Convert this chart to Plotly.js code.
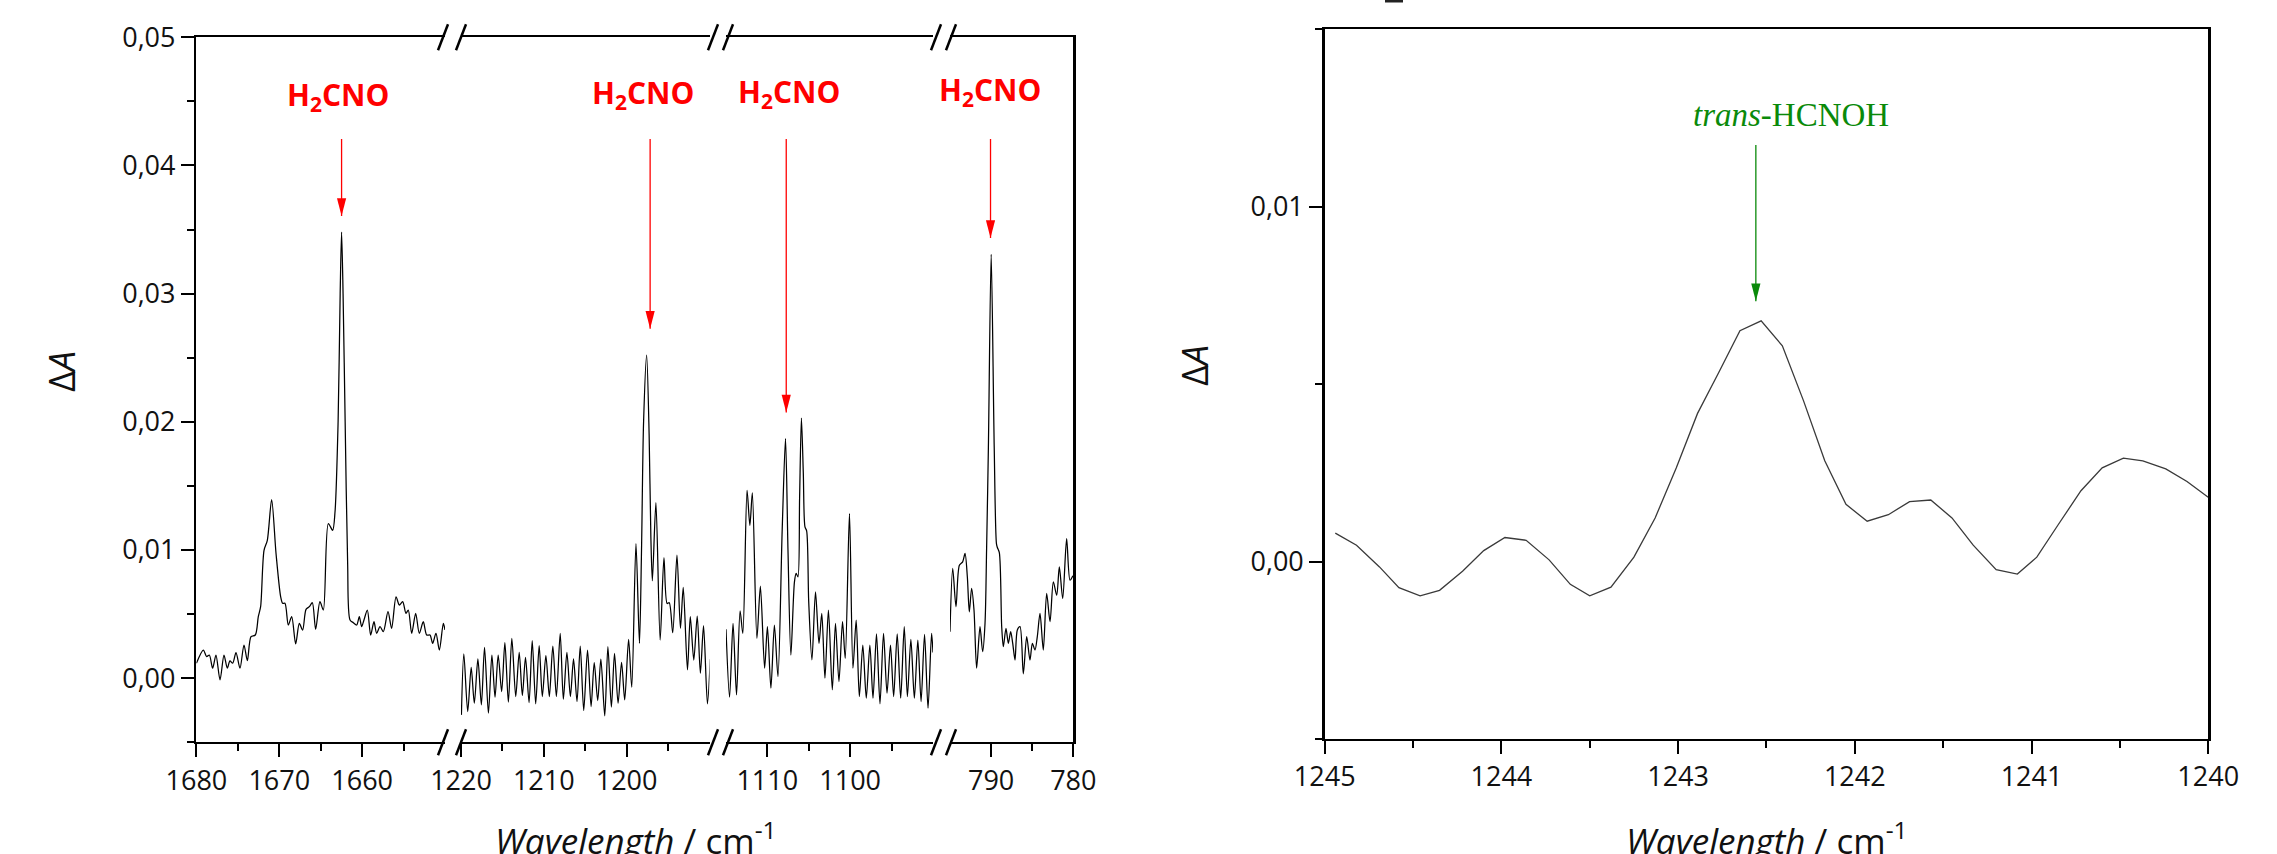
<!DOCTYPE html>
<html>
<head>
<meta charset="utf-8">
<script src="https://cdn.plot.ly/plotly-3.0.1.min.js"></script>
<style>html,body{margin:0;padding:0;background:#fff;}#chart{width:2277px;height:854px;}</style>
</head>
<body>
<div id="chart"></div>
<script>
// ---------------- DATA ----------------
// Left panel, segment 1 (1680-1650 cm-1)
const seg1X = [1680.0, 1679.16, 1678.76, 1678.44, 1678.04, 1677.64, 1677.15, 1676.67, 1676.27, 1675.95, 1675.62, 1675.22, 1674.74, 1674.26, 1673.85, 1673.41, 1672.89, 1672.53, 1672.25, 1671.84, 1671.44, 1670.92, 1670.39, 1669.83, 1669.59, 1669.31, 1668.91, 1668.50, 1668.02, 1667.58, 1667.18, 1666.77, 1666.37, 1666.01, 1665.61, 1665.09, 1664.68, 1664.08, 1663.56, 1663.27, 1662.90, 1662.65, 1662.48, 1662.30, 1662.05, 1661.75, 1661.46, 1661.06, 1660.66, 1660.34, 1660.06, 1659.78, 1659.37, 1658.97, 1658.57, 1658.25, 1657.84, 1657.44, 1656.88, 1656.44, 1655.91, 1655.51, 1655.11, 1654.71, 1654.43, 1654.02, 1653.54, 1653.10, 1652.62, 1652.21, 1651.81, 1651.49, 1651.09, 1650.68, 1650.20, 1650.0];
const seg1Y = [0.00117, 0.00220, 0.00168, 0.00181, 0.00078, 0.00181, -0.00013, 0.00181, 0.00078, 0.00135, 0.00117, 0.00200, 0.00078, 0.00259, 0.00137, 0.00324, 0.00337, 0.00480, 0.00558, 0.00998, 0.01076, 0.01393, 0.00973, 0.00635, 0.00584, 0.00584, 0.00415, 0.00480, 0.00267, 0.00428, 0.00376, 0.00537, 0.00558, 0.00589, 0.00381, 0.00597, 0.00532, 0.01206, 0.01154, 0.0130, 0.0200, 0.0300, 0.0348, 0.0300, 0.0200, 0.0090, 0.00454, 0.00433, 0.00415, 0.00480, 0.00402, 0.00454, 0.00532, 0.00337, 0.00441, 0.00350, 0.00402, 0.00363, 0.00519, 0.00389, 0.00635, 0.00571, 0.00597, 0.00506, 0.00532, 0.00350, 0.00506, 0.00350, 0.00441, 0.00337, 0.00337, 0.00272, 0.00350, 0.00220, 0.00428, 0.00376];

// Left panel, segment 2 (1220-1190 cm-1)
const seg2X = [1219.95, 1219.66, 1219.19, 1218.77, 1218.39, 1217.96, 1217.54, 1217.16, 1216.69, 1216.27, 1215.89, 1215.51, 1215.09, 1214.70, 1214.28, 1213.86, 1213.39, 1212.97, 1212.59, 1212.21, 1211.78, 1211.40, 1210.98, 1210.56, 1210.18, 1209.75, 1209.33, 1208.91, 1208.48, 1208.02, 1207.64, 1207.21, 1206.79, 1206.41, 1205.99, 1205.60, 1205.18, 1204.72, 1204.29, 1203.91, 1203.49, 1203.11, 1202.64, 1202.26, 1201.84, 1201.46, 1201.03, 1200.61, 1200.23, 1199.76, 1199.38, 1198.87, 1198.45, 1198.20, 1197.95, 1197.58, 1197.28, 1197.07, 1196.89, 1196.46, 1195.95, 1195.49, 1195.11, 1194.85, 1194.43, 1193.92, 1193.50, 1193.16, 1192.65, 1192.31, 1191.89, 1191.47, 1191.09, 1190.71, 1190.24, 1189.90];
const seg2Y = [-0.00286, 0.00189, -0.00260, 0.00085, -0.00195, 0.00150, -0.00208, 0.00241, -0.00273, 0.00181, -0.00148, 0.00181, -0.00104, 0.00277, -0.00187, 0.00311, -0.00143, 0.00202, -0.00135, 0.00163, -0.00190, 0.00293, -0.00200, 0.00254, -0.00143, 0.00176, -0.00143, 0.00251, -0.00143, 0.00350, -0.00164, 0.00202, -0.00143, 0.00150, -0.00182, 0.00251, -0.00252, 0.00220, -0.00221, 0.00122, -0.00174, 0.00148, -0.00293, 0.00246, -0.00226, 0.00194, -0.00195, 0.00124, -0.00169, 0.00303, -0.00070, 0.01050, 0.00272, 0.0100, 0.0200, 0.0252, 0.0190, 0.0110, 0.00760, 0.01369, 0.00298, 0.00941, 0.00583, 0.00589, 0.00355, 0.00960, 0.00389, 0.00708, 0.00065, 0.00480, 0.00142, 0.00485, 0.00039, 0.00410, -0.00200, 0.00148];

// Left panel, segment 3 (1115-1090 cm-1)
const seg3X = [1114.98, 1114.55, 1114.13, 1113.71, 1113.28, 1112.95, 1112.44, 1112.10, 1111.80, 1111.25, 1110.83, 1110.32, 1109.98, 1109.56, 1109.14, 1108.71, 1108.20, 1107.80, 1107.50, 1107.15, 1106.72, 1106.51, 1106.30, 1106.10, 1105.88, 1105.65, 1105.45, 1105.25, 1105.00, 1104.61, 1104.18, 1103.76, 1103.42, 1103.04, 1102.62, 1102.15, 1101.77, 1101.35, 1100.92, 1100.59, 1100.08, 1099.66, 1099.27, 1098.89, 1098.47, 1098.05, 1097.62, 1097.24, 1096.82, 1096.40, 1095.97, 1095.55, 1095.13, 1094.75, 1094.32, 1093.90, 1093.47, 1093.09, 1092.67, 1092.25, 1091.83, 1091.44, 1091.02, 1090.60, 1090.17, 1090.0];
const seg3Y = [0.00381, -0.00148, 0.00428, -0.00130, 0.00526, 0.00350, 0.01465, 0.01193, 0.01445, 0.00311, 0.00718, 0.00078, 0.00402, -0.00078, 0.00415, 0.00013, 0.01154, 0.01870, 0.01000, 0.00181, 0.00752, 0.00817, 0.00791, 0.01400, 0.02030, 0.01600, 0.01180, 0.01150, 0.00600, 0.00143, 0.00674, 0.00272, 0.00506, 0.00000, 0.00532, -0.00091, 0.00428, -0.00026, 0.00441, 0.00155, 0.01284, 0.00078, 0.00454, -0.00143, 0.00259, -0.00156, 0.00259, -0.00156, 0.00345, -0.00200, 0.00350, -0.00117, 0.00259, -0.00143, 0.00345, -0.00156, 0.00402, -0.00143, 0.00303, -0.00156, 0.00298, -0.00182, 0.00342, -0.00234, 0.00350, 0.00200];

// Left panel, segment 4 (795-780 cm-1)
const seg4X = [795.0, 794.67, 794.27, 793.86, 793.46, 793.17, 792.89, 792.65, 792.37, 792.08, 791.76, 791.35, 791.03, 790.74, 790.55, 790.33, 789.99, 789.62, 789.35, 789.24, 789.00, 788.71, 788.51, 788.19, 787.90, 787.62, 787.37, 787.09, 786.81, 786.48, 786.08, 785.67, 785.27, 784.98, 784.66, 784.38, 784.05, 783.65, 783.24, 782.83, 782.43, 782.02, 781.70, 781.29, 780.81, 780.40, 780.05];
const seg4Y = [0.00363, 0.00856, 0.00557, 0.00882, 0.00908, 0.00973, 0.00791, 0.00518, 0.00700, 0.00532, 0.00078, 0.00402, 0.00207, 0.00428, 0.01000, 0.01800, 0.03307, 0.01800, 0.01050, 0.01020, 0.00980, 0.00402, 0.00246, 0.00389, 0.00272, 0.00363, 0.00272, 0.00142, 0.00376, 0.00402, 0.00034, 0.00324, 0.00142, 0.00272, 0.00220, 0.00324, 0.00506, 0.00220, 0.00661, 0.00441, 0.00752, 0.00648, 0.00869, 0.00622, 0.01089, 0.00765, 0.00800];

// Right panel (1245-1240 cm-1)
const rightX = [1244.94, 1244.82, 1244.69, 1244.58, 1244.46, 1244.35, 1244.22, 1244.10, 1243.98, 1243.86, 1243.73, 1243.61, 1243.50, 1243.38, 1243.25, 1243.13, 1243.01, 1242.89, 1242.77, 1242.65, 1242.53, 1242.41, 1242.29, 1242.17, 1242.05, 1241.93, 1241.81, 1241.69, 1241.57, 1241.45, 1241.33, 1241.20, 1241.08, 1240.97, 1240.85, 1240.72, 1240.60, 1240.48, 1240.37, 1240.24, 1240.12, 1240.00];
const rightY = [0.000798, 0.000460, -0.000153, -0.000736, -0.000966, -0.000813, -0.000276, 0.000307, 0.000675, 0.000598, 0.000046, -0.000644, -0.000966, -0.000721, 0.000123, 0.001227, 0.002638, 0.004172, 0.005322, 0.006503, 0.006779, 0.006074, 0.004525, 0.002837, 0.001610, 0.001135, 0.001319, 0.001687, 0.001733, 0.001227, 0.000460, -0.000230, -0.000353, 0.000123, 0.001028, 0.001994, 0.002638, 0.002914, 0.002837, 0.002607, 0.002255, 0.001810];

// Tick values / labels
const seg1Ticks = [1680, 1670, 1660], seg1Minor = [1675, 1665, 1655];
const seg2Ticks = [1220, 1210, 1200], seg2Minor = [1215, 1205, 1195];
const seg3Ticks = [1110, 1100], seg3Minor = [1105, 1095];
const seg4Ticks = [790, 780], seg4Minor = [785];
const leftYTicks = [0, 0.01, 0.02, 0.03, 0.04, 0.05];
const leftYMinor = [-0.005, 0.005, 0.015, 0.025, 0.035, 0.045];
const rightXTicks = [1245, 1244, 1243, 1242, 1241, 1240];
const rightXMinor = [1244.5, 1243.5, 1242.5, 1241.5, 1240.5];
const rightYTicks = [0, 0.01];
const rightYMinor = [-0.005, 0.005, 0.015];

// Annotation anchors (peak labels and arrows)
const redLabelX = [1662.97, 1197.97, 1107.41, 790.16];
const redLabelY = [0.04544, 0.04558, 0.04565, 0.04582];
const redArrowX = [1662.48, 1197.16, 1107.71, 790.07];
const redArrowTail = [0.04207, 0.04207, 0.04207, 0.04207];
const redArrowTip = [0.03606, 0.02727, 0.02073, 0.03434];
const greenLabelX = 1242.36, greenLabelY = 0.01258;
const greenArrowX = 1242.56, greenArrowTail = 0.011734, greenArrowTip = 0.007332;

// ---------------- LAYOUT ----------------
const W = 2277, H = 854;
const fx = p => p / W;
const fy = p => 1 - p / H;
const FONT = 'Open Sans, DejaVu Sans, sans-serif';
const tickFont = {family: FONT, size: 27, color: '#111'};

const segDom = [[196.4, 445], [461, 709.5], [726, 933], [950, 1073.3]];
const segRange = [[1680, 1650], [1220, 1189.99], [1114.98, 1090.0], [795.0, 780.0]];
const leftTop = 37.3, leftBot = 742.3, rightTop = 29, rightBot = 739;
const rightL = 1324.7, rightR = 2208.2;

function segAxis(i, ticks, minor, anchor) {
  return {
    domain: [fx(segDom[i][0]), fx(segDom[i][1])],
    range: segRange[i], anchor: anchor,
    showline: true, linecolor: '#000', linewidth: 2, mirror: true,
    ticks: 'outside', ticklen: 13, tickwidth: 2, tickcolor: '#000',
    tickmode: 'array', tickvals: ticks, ticktext: ticks.map(String),
    tickfont: tickFont, showgrid: false, zeroline: false,
    minor: {tickmode: 'array', tickvals: minor, ticks: 'outside', ticklen: 7, tickwidth: 2, tickcolor: '#000', showgrid: false},
    fixedrange: true
  };
}

const lineStyle = {color: '#000', width: 1.25, shape: 'spline', smoothing: 0.8};
const traces = [
  {x: seg1X, y: seg1Y, xaxis: 'x', yaxis: 'y', mode: 'lines', line: lineStyle, hoverinfo: 'skip'},
  {x: seg2X, y: seg2Y, xaxis: 'x2', yaxis: 'y', mode: 'lines', line: lineStyle, hoverinfo: 'skip'},
  {x: seg3X, y: seg3Y, xaxis: 'x3', yaxis: 'y', mode: 'lines', line: lineStyle, hoverinfo: 'skip'},
  {x: seg4X, y: seg4Y, xaxis: 'x4', yaxis: 'y2', mode: 'lines', line: lineStyle, hoverinfo: 'skip'},
  {x: rightX, y: rightY, xaxis: 'x5', yaxis: 'y3', mode: 'lines', line: {color: '#3a3a3a', width: 1.3}, hoverinfo: 'skip'}
];

const annotations = [];
const shapes = [];
const segRefs = ['x', 'x2', 'x3', 'x4'];
const RED = '#ff0000', GREEN = '#0a8a0a';
const headPath = 'M0,0 L-4.6,17.7 L4.6,17.7 Z';

for (let i = 0; i < 4; i++) {
  annotations.push({
    xref: segRefs[i], yref: 'y', x: redLabelX[i], y: redLabelY[i],
    text: '<b>H<sub>2</sub>CNO</b>', showarrow: false,
    xanchor: 'center', yanchor: 'middle',
    font: {family: FONT, size: 30, color: RED}
  });
  shapes.push({type: 'line', xref: segRefs[i], yref: 'y', x0: redArrowX[i], x1: redArrowX[i], y0: redArrowTail[i], y1: redArrowTip[i], line: {color: RED, width: 1.3}});
  shapes.push({type: 'path', xref: segRefs[i], yref: 'y', xsizemode: 'pixel', ysizemode: 'pixel', xanchor: redArrowX[i], yanchor: redArrowTip[i], path: headPath, fillcolor: RED, line: {width: 0}});
}
annotations.push({
  xref: 'x5', yref: 'y3', x: greenLabelX, y: greenLabelY,
  text: '<i>trans</i>-HCNOH', showarrow: false, xanchor: 'center', yanchor: 'middle',
  font: {family: 'Liberation Serif, Times New Roman, serif', size: 33, color: GREEN}
});
shapes.push({type: 'line', xref: 'x5', yref: 'y3', x0: greenArrowX, x1: greenArrowX, y0: greenArrowTail, y1: greenArrowTip, line: {color: GREEN, width: 1.3}});
shapes.push({type: 'path', xref: 'x5', yref: 'y3', xsizemode: 'pixel', ysizemode: 'pixel', xanchor: greenArrowX, yanchor: greenArrowTip, path: headPath, fillcolor: GREEN, line: {width: 0}});

// axis titles
const titleFont = {family: FONT, size: 35, color: '#111'};
annotations.push({xref: 'paper', yref: 'paper', x: fx(636), y: fy(838), text: '<i>Wavelength</i> / cm<sup>-1</sup>', showarrow: false, xanchor: 'center', yanchor: 'middle', font: titleFont});
annotations.push({xref: 'paper', yref: 'paper', x: fx(1767), y: fy(838), text: '<i>Wavelength</i> / cm<sup>-1</sup>', showarrow: false, xanchor: 'center', yanchor: 'middle', font: titleFont});
annotations.push({xref: 'paper', yref: 'paper', x: fx(61), y: fy(372), text: 'Δ<i>A</i>', textangle: -90, showarrow: false, xanchor: 'center', yanchor: 'middle', font: {family: FONT, size: 36, color: '#111'}});
annotations.push({xref: 'paper', yref: 'paper', x: fx(1194), y: fy(366), text: 'Δ<i>A</i>', textangle: -90, showarrow: false, xanchor: 'center', yanchor: 'middle', font: {family: FONT, size: 36, color: '#111'}});

// axis break marks (//)
const breakCenters = [[443, 461], [713, 728], [936, 951]];
breakCenters.forEach(pair => pair.forEach(cx => {
  [leftTop, leftBot].forEach(cy => {
    shapes.push({type: 'line', xref: 'paper', yref: 'paper', x0: fx(cx - 5), y0: fy(cy + 13), x1: fx(cx + 5), y1: fy(cy - 13), line: {color: '#000', width: 2.5}});
  });
}));
// small cropped mark at the top edge
shapes.push({type: 'rect', xref: 'paper', yref: 'paper', x0: fx(1385), x1: fx(1403), y0: fy(2.5), y1: fy(0), fillcolor: '#222', line: {width: 0}});

const layout = {
  width: W, height: H,
  margin: {l: 0, r: 0, t: 0, b: 0, pad: 0},
  paper_bgcolor: '#fff', plot_bgcolor: 'rgba(0,0,0,0)',
  showlegend: false, separators: ', ',
  xaxis: segAxis(0, seg1Ticks, seg1Minor, 'y'),
  xaxis2: segAxis(1, seg2Ticks, seg2Minor, 'y'),
  xaxis3: segAxis(2, seg3Ticks, seg3Minor, 'y'),
  xaxis4: segAxis(3, seg4Ticks, seg4Minor, 'y2'),
  yaxis: {
    domain: [fy(leftBot), fy(leftTop)], range: [-0.005, 0.05], anchor: 'x',
    showline: true, linecolor: '#000', linewidth: 2.5, mirror: false,
    ticks: 'outside', ticklen: 13, tickwidth: 2, tickcolor: '#000',
    tickmode: 'array', tickvals: leftYTicks, tickformat: '.2f', tickfont: tickFont,
    minor: {tickmode: 'array', tickvals: leftYMinor, ticks: 'outside', ticklen: 7, tickwidth: 2, tickcolor: '#000', showgrid: false},
    showgrid: false, zeroline: false, fixedrange: true
  },
  yaxis2: {
    overlaying: 'y', anchor: 'x4', side: 'right', range: [-0.005, 0.05],
    showline: true, linecolor: '#000', linewidth: 2.5, ticks: '', showticklabels: false,
    showgrid: false, zeroline: false, fixedrange: true
  },
  xaxis5: {
    domain: [fx(rightL), fx(rightR)], range: [1245, 1240], anchor: 'y3',
    showline: true, linecolor: '#000', linewidth: 2, mirror: true,
    ticks: 'outside', ticklen: 13, tickwidth: 2, tickcolor: '#000',
    tickmode: 'array', tickvals: rightXTicks, ticktext: rightXTicks.map(String), tickfont: tickFont,
    minor: {tickmode: 'array', tickvals: rightXMinor, ticks: 'outside', ticklen: 7, tickwidth: 2, tickcolor: '#000', showgrid: false},
    showgrid: false, zeroline: false, fixedrange: true
  },
  yaxis3: {
    domain: [fy(rightBot), fy(rightTop)], range: [-0.005, 0.015], anchor: 'x5',
    showline: true, linecolor: '#000', linewidth: 2.5, mirror: true,
    ticks: 'outside', ticklen: 13, tickwidth: 2, tickcolor: '#000',
    tickmode: 'array', tickvals: rightYTicks, tickformat: '.2f', tickfont: tickFont,
    minor: {tickmode: 'array', tickvals: rightYMinor, ticks: 'outside', ticklen: 7, tickwidth: 2, tickcolor: '#000', showgrid: false},
    showgrid: false, zeroline: false, fixedrange: true
  },
  annotations: annotations,
  shapes: shapes
};

Plotly.newPlot('chart', traces, layout, {displayModeBar: false, staticPlot: true});
</script>
</body>
</html>
